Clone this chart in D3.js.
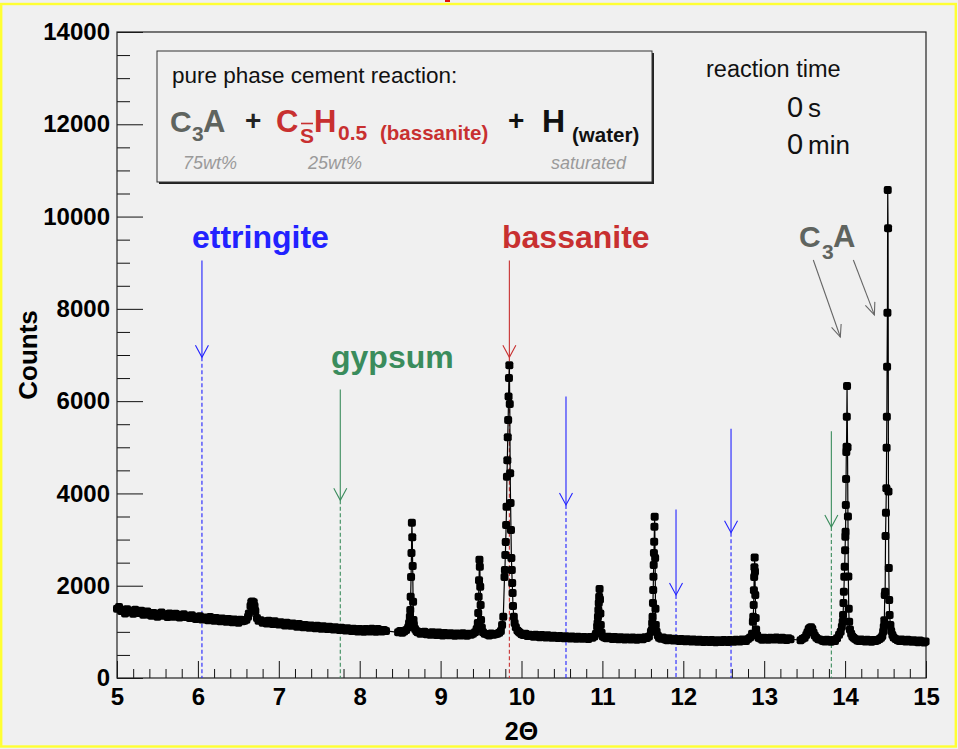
<!DOCTYPE html>
<html>
<head>
<meta charset="utf-8">
<script src="https://cdn.jsdelivr.net/npm/d3@7"></script>
<style>
  body { margin: 0; background: #f0f0f0; }
  svg { display: block; font-family: "Liberation Sans", Arial, Helvetica, sans-serif; }
</style>
</head>
<body>
<div id="xrd_div"></div>
<script>
// ---- data: XRD scan (2Theta, counts) ----
// background of the first detector module
const scanA = [
  [5.000,1500],[5.025,1540],[5.050,1450],[5.075,1480],[5.100,1400],[5.125,1490],[5.150,1430],[5.175,1460],
  [5.200,1395],[5.225,1480],[5.250,1450],[5.275,1410],[5.300,1460],[5.325,1370],[5.350,1420],[5.375,1440],
  [5.400,1370],[5.425,1350],[5.450,1410],[5.475,1390],[5.500,1330],[5.525,1390],[5.550,1420],[5.575,1350],
  [5.600,1380],[5.625,1320],[5.650,1400],[5.675,1360],[5.700,1330],[5.725,1390],[5.750,1370],[5.775,1310],
  [5.800,1360],[5.825,1380],[5.850,1320],[5.875,1350],[5.900,1300],[5.925,1360],[5.950,1330],[5.975,1280],
  [6.000,1320],[6.025,1340],[6.050,1270],[6.075,1310],[6.100,1290],[6.125,1250],[6.150,1320],[6.175,1280],
  [6.200,1240],[6.225,1300],[6.250,1270],[6.275,1230],[6.300,1290],[6.325,1250],[6.350,1220],[6.375,1280],
  [6.400,1260],[6.425,1210],[6.450,1270],[6.475,1240],[6.500,1200],[6.525,1260],[6.550,1230],[6.575,1240],
  [6.775,1250],[6.800,1200],[6.825,1230],[6.850,1180],[6.875,1240],[6.900,1210],[6.925,1170],[6.950,1230],
  [6.975,1190],[7.000,1160],[7.025,1210],[7.050,1180],[7.075,1140],[7.100,1200],[7.125,1160],[7.150,1130],
  [7.175,1180],[7.200,1150],[7.225,1110],[7.250,1170],[7.275,1140],[7.300,1100],[7.325,1150],[7.350,1130],
  [7.375,1090],[7.400,1140],[7.425,1110],[7.450,1080],[7.475,1130],[7.500,1100],[7.525,1070],[7.550,1120],
  [7.575,1090],[7.600,1060],[7.625,1110],[7.650,1080],[7.675,1050],[7.700,1100],[7.725,1070],[7.750,1040],
  [7.775,1090],[7.800,1060],[7.825,1030],[7.850,1080],[7.875,1050],[7.900,1020],[7.925,1070],[7.950,1050],
  [7.975,1010],[8.000,1060],[8.025,1040],[8.050,1000],[8.075,1060],[8.100,1030],[8.125,1010],[8.150,1070],
  [8.175,1030],[8.200,1000],[8.225,1060],[8.250,1040],[8.275,1010],[8.300,1040],[8.325,1020]
];
// background of the second module
const scanB = [
  [8.475,990],[8.500,1020],[8.525,980],
  [8.725,1000],[8.750,960],[8.775,990],[8.800,1000],[8.825,950],[8.850,980],[8.875,940],[8.900,990],
  [8.925,960],[8.950,930],[8.975,985],[9.000,950],[9.025,920],[9.050,975],[9.075,945],[9.100,925],
  [9.125,970],[9.150,950],[9.175,915],[9.200,965],[9.225,940],[9.250,920],[9.275,970],[9.300,945],
  [9.325,915],[9.350,960],[9.375,935],
  [9.575,945],[9.600,920],[9.625,965],[9.650,935],[9.675,950],
  [10.025,930],[10.050,960],[10.075,910],[10.100,940],[10.125,920],[10.150,895],[10.175,935],[10.200,910],
  [10.225,885],[10.250,930],[10.275,900],[10.300,880],[10.325,925],[10.350,895],[10.375,870],[10.400,915],
  [10.425,890],[10.450,865],[10.475,910],[10.500,885],[10.525,860],[10.550,905],[10.575,880],[10.600,855],
  [10.625,900],[10.650,875],[10.675,850],[10.700,895],[10.725,870],[10.750,850],[10.775,890],[10.800,865],
  [10.825,845],[10.850,890],[10.875,870],
  [11.050,860],[11.075,895],[11.100,870],[11.125,845],[11.150,890],[11.175,860],[11.200,840],[11.225,885],
  [11.250,860],[11.275,835],[11.300,880],[11.325,855],[11.350,835],[11.375,880],[11.400,855],[11.425,830],
  [11.450,875],[11.475,860],[11.500,840],[11.525,885],[11.550,865],[11.575,900],
  [11.700,870],[11.725,850],[11.750,880],[11.775,835],[11.800,820],[11.825,860],[11.850,830],[11.875,810],
  [11.900,850],[11.925,825],[11.950,800],[11.975,845],[12.000,815],[12.025,795],[12.050,840],[12.075,810],
  [12.100,790],[12.125,835],[12.150,805],[12.175,785],[12.200,830],[12.225,805],[12.250,780],[12.275,825],
  [12.300,800],[12.325,780],[12.350,825],[12.375,800],[12.400,775],[12.425,820],[12.450,795],[12.475,780],
  [12.500,825],[12.525,800],[12.550,780],[12.575,825],[12.600,800],[12.625,785],[12.650,830],[12.675,805],
  [12.700,790],[12.725,835],[12.750,815],[12.775,800],[12.800,845],
  [12.950,855],[12.975,830],[13.000,875],[13.025,850],[13.050,830],[13.075,875],[13.100,850],[13.125,835],
  [13.150,880],[13.175,850],[13.200,830],[13.225,870],[13.250,845],[13.275,825],[13.300,860],[13.325,840]
];
// background of the third module
const scanC = [
  [13.450,820],[13.475,850],
  [13.700,830],[13.725,800],[13.750,790],[13.775,830],[13.800,805],[13.825,785],[13.850,825],[13.875,800],
  [14.125,845],[14.150,815],[14.175,800],[14.200,835],[14.225,805],[14.250,790],[14.275,830],[14.300,805],
  [14.325,785],[14.350,825],[14.375,800],
  [14.625,845],[14.650,820],[14.675,800],[14.700,835],[14.725,810],[14.750,790],[14.775,830],[14.800,805],
  [14.825,785],[14.850,820],[14.875,795],[14.900,775],[14.925,815],[14.950,790],[14.975,770],[14.995,790]
];
// reflections
const peak667 = [[6.60,1260],[6.62,1330],[6.63,1400],[6.65,1560],[6.66,1640],[6.67,1660],[6.69,1640],
  [6.70,1560],[6.71,1450],[6.73,1300],[6.75,1240]];
const peak864 = [[8.55,1010],[8.575,1040],[8.60,1100],[8.61,1190],[8.62,1330],[8.625,1475],[8.63,1760],[8.635,2190],
  [8.64,2710],[8.645,3365],[8.65,3050],[8.655,2425],[8.66,1655],[8.665,1255],[8.67,1150],[8.685,1060],
  [8.70,1020],[8.715,990]];
const peak948 = [[9.40,960],[9.425,990],[9.445,1060],[9.46,1190],[9.465,1410],[9.47,1760],[9.475,2120],[9.48,2560],
  [9.485,2410],[9.49,1980],[9.495,1580],[9.50,1255],[9.51,1090],[9.525,990],[9.545,960]];
const peakBassanite = [[9.70,960],[9.725,980],[9.745,1020],[9.76,1150],[9.775,1330],[9.79,2190],[9.795,2340],
  [9.80,2665],[9.805,2950],[9.81,3315],[9.815,3710],[9.82,4360],[9.825,4720],[9.83,5220],[9.835,5590],
  [9.84,6100],[9.845,6500],[9.85,6780],[9.855,5940],[9.86,4440],[9.865,3790],[9.87,3210],[9.875,2600],
  [9.88,2340],[9.885,2060],[9.89,1840],[9.895,1560],[9.905,1330],[9.915,1190],[9.93,1100],[9.95,1030],
  [9.965,1000],[9.98,980],[10.00,950]];
const peak1096 = [[10.90,900],[10.92,960],[10.935,1110],[10.94,1190],[10.945,1330],[10.95,1475],[10.955,1625],
  [10.96,1760],[10.965,1930],[10.97,1700],[10.975,1400],[10.98,1150],[10.99,980],[11.005,900],[11.025,880]];
const peak1164 = [[11.60,1000],[11.61,1040],[11.615,1190],[11.62,1330],[11.625,1625],[11.628,1907],[11.631,2195],
  [11.634,2450],[11.637,2710],[11.640,2955],[11.643,3280],[11.646,3495],[11.652,2600],[11.656,1500],
  [11.66,1150],[11.67,1000],[11.685,920]];
const peak1288 = [[12.825,880],[12.85,960],[12.86,1220],[12.865,1330],[12.87,1580],[12.873,1900],[12.876,2190],
  [12.879,2400],[12.882,2610],[12.886,2300],[12.89,1800],[12.895,1300],[12.90,1050],[12.915,920],[12.93,870]];
const peak1357 = [[13.50,870],[13.52,930],[13.535,990],[13.55,1060],[13.565,1090],[13.58,1100],[13.595,1060],
  [13.61,980],[13.625,920],[13.645,870],[13.67,840]];
const peak1402 = [[13.90,860],[13.925,940],[13.945,1000],[13.96,1110],[13.97,1220],[13.975,1365],[13.98,1625],
  [13.985,1870],[13.99,2195],[13.995,2410],[14.00,2770],[14.003,3060],[14.006,3170],[14.009,3750],
  [14.012,4310],[14.015,4900],[14.018,5010],[14.021,5660],[14.024,6330],[14.03,5000],[14.035,3500],
  [14.04,2200],[14.045,1500],[14.05,1220],[14.06,1050],[14.075,960],[14.09,900],[14.105,870]];
const peak1453 = [[14.40,820],[14.425,845],[14.445,870],[14.46,910],[14.47,1000],[14.478,1110],[14.485,1250],
  [14.49,1800],[14.495,1870],[14.50,3075],[14.505,3580],[14.51,4110],[14.513,4990],[14.516,5660],[14.519,6745],
  [14.523,7915],[14.527,10575],[14.531,9745],[14.536,4040],[14.54,2385],[14.545,1690],[14.55,1365],
  [14.56,1150],[14.57,1020],[14.585,930],[14.60,880]];

// phase markers: position, arrow start and arrow tip (counts)
const markerPhase = ["ettringite", "gypsum", "bassanite", "ettringite", "ettringite", "ettringite", "gypsum"];
const markerTheta = [6.05, 7.76, 9.85, 10.55, 11.91, 12.59, 13.83];
const markerFrom  = [9050, 6250, 9050, 6100, 3650, 5400, 5350];
const markerTo    = [6950, 3850, 6950, 3750, 1800, 3150, 3270];

// C3A pointer arrows [theta0, counts0, theta1, counts1]
const c3aArrows = [[13.607, 9060, 13.941, 7390], [14.102, 9060, 14.362, 7870]];

// axis ticks
const xMajorTicks = [5, 6, 7, 8, 9, 10, 11, 12, 13, 14, 15];
const yMajorTicks = [0, 2000, 4000, 6000, 8000, 10000, 12000, 14000];

const phaseColor = { ettringite: "#2222ff", gypsum: "#3a8c5c", bassanite: "#c83030" };
const c3aGrey = "#5f645f";

// ---- layout ----
const W = 958, H = 749;
const margin = {top: 32, right: 32, bottom: 71, left: 117},
  width = W - margin.left - margin.right,
  height = H - margin.top - margin.bottom;

const svg = d3.select("#xrd_div")
  .append("svg")
  .attr("width", W)
  .attr("height", H);

svg.append("rect").attr("width", W).attr("height", H).attr("fill", "#f0f0f0");
// yellow outer border and a clipped red bit above
svg.append("rect")
  .attr("x", 1.2).attr("y", 4).attr("width", W - 3.4).attr("height", H - 6.5)
  .attr("fill", "none").attr("stroke", "#ffff33").attr("stroke-width", 2.4);
svg.append("rect").attr("x", 445).attr("y", 0).attr("width", 5).attr("height", 2).attr("fill", "#e01010");

const g = svg.append("g").attr("transform", `translate(${margin.left},${margin.top})`);

const x = d3.scaleLinear().domain([5, 15]).range([0, width]);
const y = d3.scaleLinear().domain([0, 14000]).range([height, 0]);

// ---- axes (ticks inside the frame, ROOT style) ----
const styleAxis = sel => {
  sel.select(".domain").remove();
  sel.selectAll("line").attr("stroke", "#111");
  sel.selectAll("text")
    .attr("fill", "#000")
    .style("font-size", "24px")
    .style("font-weight", "bold")
    .style("font-family", "'Liberation Sans', Arial, sans-serif");
};

g.append("g")
  .attr("transform", `translate(0,${height})`)
  .call(d3.axisBottom(x).tickValues(d3.range(5, 15.001, 0.2).filter(v => Math.abs(v - Math.round(v)) > 1e-6))
    .tickSize(-9).tickFormat(""))
  .call(styleAxis);
g.append("g")
  .attr("transform", `translate(0,${height})`)
  .call(d3.axisBottom(x).tickValues(xMajorTicks).tickSize(-17).tickPadding(10).tickFormat(d3.format("d")))
  .call(styleAxis);

g.append("g")
  .call(d3.axisLeft(y).tickValues(d3.range(500, 14000, 500).filter(v => v % 2000 !== 0))
    .tickSize(-13).tickFormat(""))
  .call(styleAxis);
g.append("g")
  .call(d3.axisLeft(y).tickValues(yMajorTicks).tickSize(-26).tickPadding(7).tickFormat(d3.format("d")))
  .call(styleAxis);

g.append("rect")
  .attr("width", width).attr("height", height)
  .attr("fill", "none").attr("stroke", "#222").attr("stroke-width", 1.2);

// axis titles
g.append("text")
  .attr("text-anchor", "middle")
  .attr("x", width / 2)
  .attr("y", 708)
  .style("font-size", "25px").style("font-weight", "bold")
  .text("2\u0398");

g.append("text")
  .attr("text-anchor", "middle")
  .attr("transform", "rotate(-90)")
  .attr("x", -height / 2)
  .attr("y", -80)
  .style("font-size", "26px").style("font-weight", "bold")
  .text("Counts");

// ---- phase arrows ----
const markers = markerTheta.map((t, i) => ({phase: markerPhase[i], t: t, from: markerFrom[i], to: markerTo[i]}));
const arrows = g.append("g").attr("fill", "none").attr("stroke-width", 1.1);
markers.forEach(m => {
  const c = phaseColor[m.phase], px = x(m.t), tip = y(m.to);
  arrows.append("line").attr("x1", px).attr("x2", px).attr("y1", y(m.from)).attr("y2", tip).attr("stroke", c);
  arrows.append("path").attr("d", `M${px - 6.5},${tip - 12}L${px},${tip}L${px + 6.5},${tip - 12}`).attr("stroke", c);
  arrows.append("line").attr("x1", px).attr("x2", px).attr("y1", tip).attr("y2", height)
    .attr("stroke", c).attr("stroke-dasharray", "4,2.5");
});

// C3A pointers
c3aArrows.forEach(a => {
  const x0 = x(a[0]), y0 = y(a[1]), x1 = x(a[2]), y1 = y(a[3]);
  const ang = Math.atan2(y1 - y0, x1 - x0), L = 13, s = 0.4;
  arrows.append("line").attr("x1", x0).attr("y1", y0).attr("x2", x1).attr("y2", y1).attr("stroke", "#666");
  arrows.append("path")
    .attr("d", `M${x1 - L * Math.cos(ang - s)},${y1 - L * Math.sin(ang - s)}L${x1},${y1}L${x1 - L * Math.cos(ang + s)},${y1 - L * Math.sin(ang + s)}`)
    .attr("stroke", "#666");
});

// ---- the scan ----
const scan = [].concat(scanA, scanB, scanC, peak667, peak864, peak948, peakBassanite,
  peak1096, peak1164, peak1288, peak1357, peak1402, peak1453).sort((a, b) => a[0] - b[0]);

g.append("path")
  .datum(scan)
  .attr("fill", "none")
  .attr("stroke", "#000")
  .attr("stroke-width", 1.2)
  .attr("d", d3.line().x(d => x(d[0])).y(d => y(d[1])));

g.append("g")
  .selectAll("rect")
  .data(scan)
  .join("rect")
    .attr("x", d => x(d[0]) - 4)
    .attr("y", d => y(d[1]) - 4)
    .attr("width", 8).attr("height", 8).attr("rx", 2)
    .attr("fill", "#000");

// ---- annotation labels (absolute page coords) ----
const lab = svg.append("g").style("font-weight", "bold");
lab.append("text").attr("x", 192).attr("y", 248).attr("fill", phaseColor.ettringite).style("font-size", "32px").text("ettringite");
lab.append("text").attr("x", 502).attr("y", 248).attr("fill", phaseColor.bassanite).style("font-size", "32px").text("bassanite");
lab.append("text").attr("x", 331).attr("y", 368).attr("fill", phaseColor.gypsum).style("font-size", "32px").text("gypsum");
const c3aLab = lab.append("text").attr("y", 247).attr("fill", c3aGrey);
c3aLab.append("tspan").attr("x", 799).style("font-size", "30px").text("C");
c3aLab.append("tspan").attr("x", 822).attr("dy", 12).style("font-size", "21px").text("3");
c3aLab.append("tspan").attr("x", 833).attr("dy", -12).style("font-size", "31px").text("A");

// ---- reaction box ----
const box = svg.append("g");
box.append("rect").attr("x", 159).attr("y", 53).attr("width", 495).attr("height", 131).attr("fill", "#222");
box.append("rect").attr("x", 157).attr("y", 51).attr("width", 495).attr("height", 131)
  .attr("fill", "#f0f0f0").attr("stroke", "#333").attr("stroke-width", 1);
box.append("text").attr("x", 172).attr("y", 83).style("font-size", "22.5px").attr("fill", "#111")
  .text("pure phase cement reaction:");

const f = box.append("g").style("font-weight", "bold");
const part = (txt, px, py, size, col) =>
  f.append("text").attr("x", px).attr("y", py).style("font-size", size + "px").attr("fill", col).text(txt);
part("C", 170, 132, 30, c3aGrey);
part("3", 192, 141, 21, c3aGrey);
part("A", 203, 132, 31, c3aGrey);
part("+", 245, 130, 28, "#222");
part("C", 276, 132, 31, phaseColor.bassanite);
part("S", 300, 143, 21, phaseColor.bassanite);
f.append("line").attr("x1", 301).attr("x2", 313).attr("y1", 123.5).attr("y2", 123.5)
  .attr("stroke", phaseColor.bassanite).attr("stroke-width", 1.6);
part("H", 314, 132, 31, phaseColor.bassanite);
part("0.5", 338, 140, 21, phaseColor.bassanite);
part("(bassanite)", 380, 140, 20.5, phaseColor.bassanite);
part("+", 508, 130, 28, "#111");
part("H", 542, 132, 32, "#111");
part("(water)", 572, 142, 20.5, "#111");

const wt = box.append("g").style("font-style", "italic").style("font-size", "18px").attr("fill", "#9a9a9a");
wt.append("text").attr("x", 183).attr("y", 169).text("75wt%");
wt.append("text").attr("x", 308).attr("y", 169).text("25wt%");
wt.append("text").attr("x", 551).attr("y", 169).text("saturated");

// ---- reaction time ----
const rt = svg.append("g").attr("fill", "#111");
rt.append("text").attr("x", 706).attr("y", 77).style("font-size", "23.5px").text("reaction time");
rt.append("text").attr("x", 787).attr("y", 117).style("font-size", "29px").text("0");
rt.append("text").attr("x", 808).attr("y", 117).style("font-size", "26px").text("s");
rt.append("text").attr("x", 787).attr("y", 154).style("font-size", "29px").text("0");
rt.append("text").attr("x", 808).attr("y", 154).style("font-size", "26px").text("min");
</script>
</body>
</html>
